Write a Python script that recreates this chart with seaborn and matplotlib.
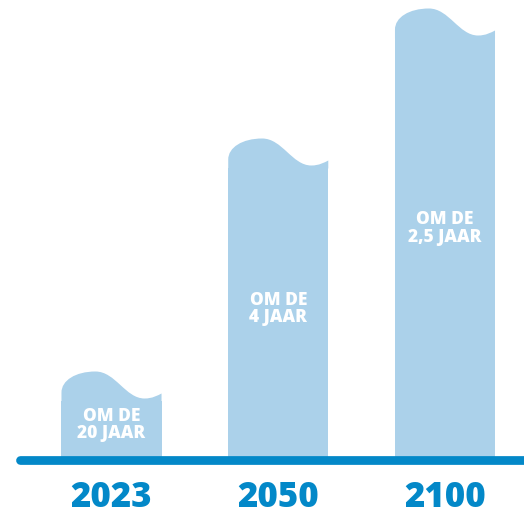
import matplotlib
matplotlib.use("Agg")
import matplotlib.pyplot as plt
from matplotlib.path import Path
from matplotlib.patches import PathPatch
import seaborn as sns
import pandas as pd

# ---- data ----
years = ["2023", "2050", "2100"]
heights = [67, 300, 430]          # bar height (px-like units) at left edge of wavy top
labels = ["OM DE\n20 JAAR", "OM DE\n4 JAAR", "OM DE\n2,5 JAAR"]
label_y = [34.5, 150.5, 231]       # vertical centre of the text inside each bar

BAR = "#abd1ea"
BLUE = "#0388c8"

df = pd.DataFrame({"year": years, "h": heights})

sns.set_theme(style="white")
plt.rcParams["font.family"] = ["Open Sans", "DejaVu Sans"]

W, H = 524, 515
base_px = 459.5  # baseline from top
fig = plt.figure(figsize=(W / 100, H / 100), dpi=100)
ax = fig.add_axes([0, (H - base_px) / H, 1, base_px / H])

sns.barplot(data=df, x="year", y="h", color=BAR, width=0.6, saturation=1,
            linewidth=0, edgecolor=BAR, ax=ax, zorder=2)

# x mapping: centres at 111.5, 278, 445 px -> scale 166.75 px per category
scale = 166.75
ax.set_xlim(-111.5 / scale, (W - 111.5) / scale)
ax.set_ylim(0, base_px)

DIP = 9
for p in list(ax.patches):
    x0 = p.get_x()
    w = p.get_width()
    h = p.get_height()
    p.set_height(h - DIP + 1)
    p.set_linewidth(0)
    X = lambda f: x0 + f * w
    verts = [
        (X(0), h - DIP),
        (X(0), h),
        (X(0), h + 12), (X(0.14), h + 21), (X(0.34), h + 21),
        (X(0.54), h + 21), (X(0.64), h - 6), (X(0.83), h - 6),
        (X(0.91), h - 6), (X(0.96), h - 3), (X(1), h - 1),
        (X(1), h - DIP),
        (X(0), h - DIP),
    ]
    codes = [Path.MOVETO, Path.LINETO,
             Path.CURVE4, Path.CURVE4, Path.CURVE4,
             Path.CURVE4, Path.CURVE4, Path.CURVE4,
             Path.CURVE4, Path.CURVE4, Path.CURVE4,
             Path.LINETO, Path.CLOSEPOLY]
    ax.add_patch(PathPatch(Path(verts, codes), facecolor=BAR, edgecolor="none",
                           lw=0, zorder=2))

for i, (t, yy) in enumerate(zip(labels, label_y)):
    ax.text(i, yy, t, ha="center", va="center", color="white",
            fontsize=12.5, fontweight="heavy", linespacing=1.05, zorder=3)

# baseline
ax.plot([(20 - 111.5) / scale, (W + 20 - 111.5) / scale], [0, 0], color=BLUE,
        lw=6.3, solid_capstyle="round", clip_on=False, zorder=4)

ax.set_xlabel("")
ax.set_ylabel("")
ax.set_yticks([])
ax.tick_params(axis="x", length=0, pad=15)
for lab in ax.get_xticklabels():
    lab.set_fontsize(25)
    lab.set_fontweight("heavy")
    lab.set_color(BLUE)
sns.despine(ax=ax, left=True, bottom=True)

fig.savefig("out.png", dpi=100)
